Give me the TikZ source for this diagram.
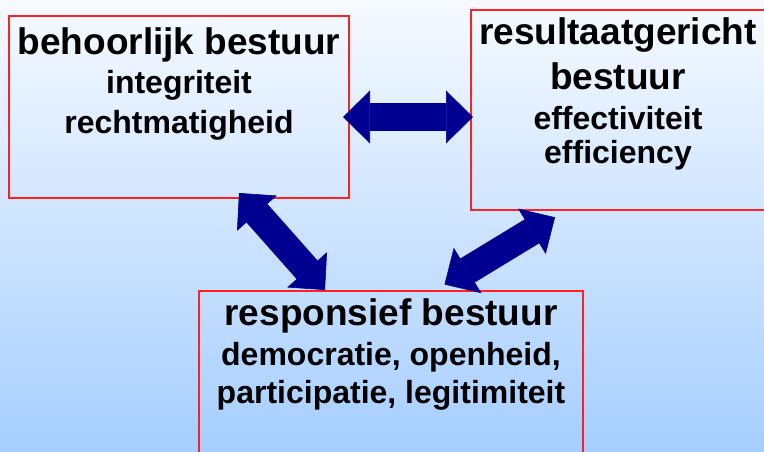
\documentclass[tikz,border=0pt]{standalone}
\usepackage{fontspec}
\setmainfont{Liberation Sans}
\usetikzlibrary{arrows.meta}
\definecolor{bgtop}{HTML}{F6FAFF}
\definecolor{bgbot}{HTML}{A6CEFF}
\definecolor{boxred}{HTML}{FF2020}
\definecolor{arrowblue}{HTML}{000090}
\tikzset{
  box/.style={draw=boxred, line width=2pt, rectangle, inner sep=0pt},
  titletext/.style={anchor=base, inner sep=0pt, font=\fontsize{37}{40}\selectfont\bfseries},
  subtext/.style={anchor=base, inner sep=0pt, font=\fontsize{32}{36}\selectfont\bfseries},
  bigarrow/.style={draw=arrowblue, line width=28pt,
    {Triangle[length=27pt, width=53pt, line width=0.6pt]}-{Triangle[length=27pt, width=53pt, line width=0.6pt]}}
}
\begin{document}
\begin{tikzpicture}[x=1pt, y=-1pt]
  \useasboundingbox (0,0) rectangle (764,452);
  \shade[top color=bgtop, bottom color=bgbot] (0,0) rectangle (764,452);

  % boxes
  \node[box, minimum width=340pt, minimum height=182pt] (b1) at (179,107) {};
  \node[box, minimum width=295pt, minimum height=199pt] (b2) at (618.5,110) {};
  \node[box, minimum width=384pt, minimum height=180pt] (b3) at (391,381) {};

  % texts box 1
  \node[titletext] (t1a) at (179,55) {behoorlijk bestuur};
  \node[subtext] (t1b) at (179,94) {integriteit};
  \node[subtext] (t1c) at (179,133) {rechtmatigheid};

  % texts box 2
  \node[titletext] (t2a) at (618,45) {resultaatgericht};
  \node[titletext] (t2b) at (618,90) {bestuur};
  \node[subtext] (t2c) at (618,129) {effectiviteit};
  \node[subtext] (t2d) at (618,163.5) {efficiency};

  % texts box 3
  \node[titletext] (t3a) at (391,325.5) {responsief bestuur};
  \node[subtext] (t3b) at (391,365) {democratie, openheid,};
  \node[subtext] (t3c) at (391,403) {participatie, legitimiteit};

  % arrow end points
  \coordinate (a1s) at (343,117);
  \coordinate (a1e) at (473,117);
  \coordinate (a2s) at (239,193);
  \coordinate (a2e) at (325,290);
  \coordinate (a3s) at (555,217.3);
  \coordinate (a3e) at (444.5,284.5);

  \draw[bigarrow] (a1s) -- (a1e);
  \draw[bigarrow] (a2s) -- (a2e);
  \draw[bigarrow] (a3s) -- (a3e);
\end{tikzpicture}
\end{document}
